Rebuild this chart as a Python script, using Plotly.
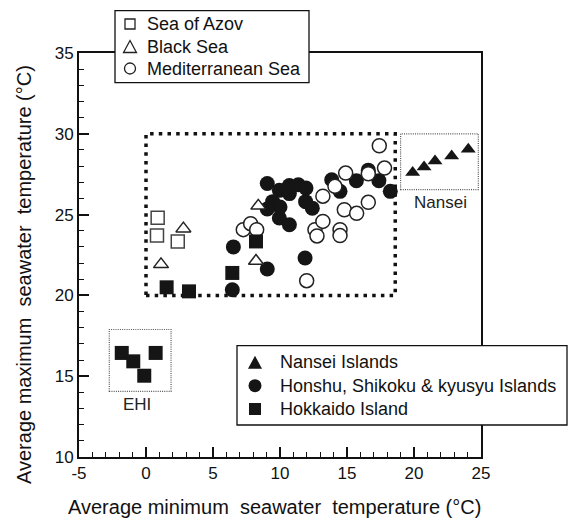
import plotly.graph_objects as go

# ---------------- data ----------------
azov_x = [0.87, 0.82, 2.37]
azov_y = [24.8, 23.71, 23.34]

black_x = [2.79, 1.12, 8.38, 8.21]
black_y = [24.13, 21.92, 25.54, 22.13]

med_x = [7.26, 7.81, 8.26, 11.99, 12.61, 12.76, 13.2, 13.2, 14.1, 14.48,
         14.48, 14.8, 15.72, 16.59, 14.9, 16.59, 17.8, 17.41]
med_y = [24.07, 24.44, 24.07, 20.91, 24.07, 23.68, 24.58, 26.14, 26.75, 24.07,
         23.7, 25.3, 25.08, 25.76, 27.57, 27.53, 27.88, 29.26]

nansei_x = [19.9, 20.75, 21.57, 22.81, 24.05]
nansei_y = [27.6, 27.95, 28.32, 28.63, 29.04]

honshu_x = [9.05, 9.95, 10.7, 11.37, 11.94, 10.7, 9.45, 10.0, 9.05, 11.91,
            12.41, 9.95, 10.7, 6.52, 9.05, 11.87, 6.44, 13.86, 14.48, 15.7,
            16.59, 17.38, 18.23]
honshu_y = [26.92, 26.5, 26.8, 26.85, 26.64, 26.3, 25.8, 25.47, 25.35, 25.8,
            25.4, 24.79, 24.37, 23.0, 21.63, 22.31, 20.35, 27.16, 26.44, 27.1,
            27.75, 27.1, 26.44]

hokkaido_x = [1.54, 3.21, 8.21, 6.44, -1.81, -0.95, -0.13, 0.72]
hokkaido_y = [20.5, 20.25, 23.34, 21.39, 16.44, 15.92, 15.03, 16.44]

x_ticks = [-5, 0, 5, 10, 15, 20, 25]
x_tick_labels = ["-5", "0", "5", "10", "15", "20", "25"]
y_ticks = [10, 15, 20, 25, 30, 35]
y_tick_labels = ["10", "15", "20", "25", "30", "35"]

legend1_labels = ["Sea of Azov", "Black Sea", "Mediterranean Sea"]
legend2_labels = ["Nansei Islands", "Honshu, Shikoku & kyusyu Islands", "Hokkaido Island"]

main_box = [0.0, 20.0, 18.6, 30.0]       # x0, y0, x1, y1
nansei_box = [19.0, 26.55, 24.8, 30.0]
ehi_box = [-2.74, 14.06, 1.87, 17.89]
nansei_label = (21.94, 25.76)
ehi_label = (-0.65, 13.24)

# ---------------- layout constants (pixels) ----------------
W, H = 574, 519
ML, MR, MT, MB = 79, 93, 53, 62
PW, PH = W - ML - MR, H - MT - MB


def px_x(p):
    return (p - ML) / PW


def px_y(p):
    return (H - MB - p) / PH


FONT = "Liberation Sans, Arial, Helvetica, sans-serif"
INK = "#111"
DARK = "#151515"

fig = go.Figure()

open_line = dict(color="#222", width=1.5)
fig.add_trace(go.Scatter(x=honshu_x, y=honshu_y, mode="markers",
                         name=legend2_labels[1], showlegend=False,
                         marker=dict(symbol="circle", size=15, color=DARK,
                                     line=dict(width=0))))
fig.add_trace(go.Scatter(x=med_x, y=med_y, mode="markers",
                         name=legend1_labels[2], showlegend=False,
                         marker=dict(symbol="circle", size=14, color="white",
                                     line=open_line)))
fig.add_trace(go.Scatter(x=azov_x, y=azov_y, mode="markers",
                         name=legend1_labels[0], showlegend=False,
                         marker=dict(symbol="square", size=13, color="white",
                                     line=dict(color="#444", width=1.5))))
fig.add_trace(go.Scatter(x=black_x, y=black_y, mode="markers",
                         name=legend1_labels[1], showlegend=False,
                         marker=dict(symbol="triangle-up", size=13, color="white",
                                     line=open_line)))
fig.add_trace(go.Scatter(x=nansei_x, y=nansei_y, mode="markers",
                         name=legend2_labels[0], showlegend=False,
                         marker=dict(symbol="triangle-up", size=13, color=DARK,
                                     line=dict(width=0))))
fig.add_trace(go.Scatter(x=hokkaido_x, y=hokkaido_y, mode="markers",
                         name=legend2_labels[2], showlegend=False,
                         marker=dict(symbol="square", size=14, color=DARK,
                                     line=dict(width=0))))

# boxes in the data area
fig.add_shape(type="rect", x0=main_box[0], y0=main_box[1], x1=main_box[2], y1=main_box[3],
              line=dict(color=INK, width=3.5, dash="3.5px,5.2px"), layer="below")
for b in (nansei_box, ehi_box):
    fig.add_shape(type="rect", x0=b[0], y0=b[1], x1=b[2], y1=b[3],
                  line=dict(color="#555", width=1.2, dash="1px,1.2px"), layer="below")

fig.add_annotation(x=nansei_label[0], y=nansei_label[1], text="Nansei", showarrow=False,
                   font=dict(family=FONT, size=17, color="#222"))
fig.add_annotation(x=ehi_label[0], y=ehi_label[1], text="EHI", showarrow=False,
                   font=dict(family=FONT, size=17, color="#222"))


# ---------------- legends (drawn as boxes + symbols + text) ----------------
def legend_box(x0, y0, x1, y1):
    fig.add_shape(type="rect", xref="paper", yref="paper",
                  x0=px_x(x0), x1=px_x(x1), y0=px_y(y1), y1=px_y(y0),
                  line=dict(color=INK, width=1.3), fillcolor="white", layer="above")


def sym(kind, cx, cy, size, filled):
    fill = DARK if filled else "white"
    line = dict(color=DARK if filled else "#222", width=0 if filled else 1.3)
    if kind == "triangle":
        w, h = size * 1.08, size
        path = "M{},{} L{},{} L{},{} Z".format(
            px_x(cx - w / 2), px_y(cy + h / 2),
            px_x(cx + w / 2), px_y(cy + h / 2),
            px_x(cx), px_y(cy - h / 2))
        fig.add_shape(type="path", xref="paper", yref="paper", path=path,
                      fillcolor=fill, line=line, layer="above")
    else:
        fig.add_shape(type="rect" if kind == "square" else "circle",
                      xref="paper", yref="paper",
                      x0=px_x(cx - size / 2), x1=px_x(cx + size / 2),
                      y0=px_y(cy + size / 2), y1=px_y(cy - size / 2),
                      fillcolor=fill, line=line, layer="above")


def legend_text(txt, x, cy, size):
    fig.add_annotation(xref="paper", yref="paper", x=px_x(x), y=px_y(cy),
                       xanchor="left", yanchor="middle", text=txt, showarrow=False,
                       font=dict(family=FONT, size=size, color=INK))


# legend 1 (open symbols)
legend_box(115, 10.7, 309, 82.7)
l1_rows = [24, 46.5, 68.5]
for kind, lab, cy, s in zip(["square", "triangle", "circle"], legend1_labels, l1_rows, [10, 12, 11]):
    sym(kind, 130, cy, s, False)
    legend_text(lab, 145, cy, 18)

# legend 2 (filled symbols)
legend_box(237, 345.7, 567, 425)
l2_rows = [362.3, 385.7, 409]
for kind, lab, cy, s in zip(["triangle", "circle", "square"], legend2_labels, l2_rows, [13, 13, 12]):
    sym(kind, 255, cy, s, True)
    legend_text(lab, 278, cy, 18)

# axis titles
fig.add_annotation(xref="paper", yref="paper", x=px_x(274), y=px_y(507),
                   xanchor="center", yanchor="middle",
                   text="Average minimum  seawater  temperature (°C)", showarrow=False,
                   font=dict(family=FONT, size=20, color=INK))
fig.add_annotation(xref="paper", yref="paper", x=px_x(24), y=px_y(275), textangle=-90,
                   xanchor="center", yanchor="middle",
                   text="Average maximum  seawater  temperature (°C)", showarrow=False,
                   font=dict(family=FONT, size=20, color=INK))

axis_common = dict(showgrid=False, zeroline=False, showline=True, linecolor=INK,
                   linewidth=2, mirror=True, ticks="inside", ticklen=10, tickwidth=1.5,
                   tickcolor=INK, tickfont=dict(family=FONT, size=17, color=INK))

fig.update_xaxes(range=[-5, 25], tickvals=x_ticks, ticktext=x_tick_labels,
                 minor=dict(ticks="inside", ticklen=5, dtick=1, tickwidth=1, tickcolor=INK),
                 **axis_common)
fig.update_yaxes(range=[10, 35], tickvals=y_ticks, ticktext=y_tick_labels,
                 minor=dict(ticks="inside", ticklen=5, dtick=1, tickwidth=1, tickcolor=INK),
                 **axis_common)

fig.update_layout(
    width=W, height=H,
    margin=dict(l=ML, r=MR, t=MT, b=MB),
    paper_bgcolor="white", plot_bgcolor="white",
    font=dict(family=FONT, color=INK),
    showlegend=False,
)

fig.write_html("out.html", config={"displayModeBar": False},
               post_script="document.body.style.margin='0px';")
